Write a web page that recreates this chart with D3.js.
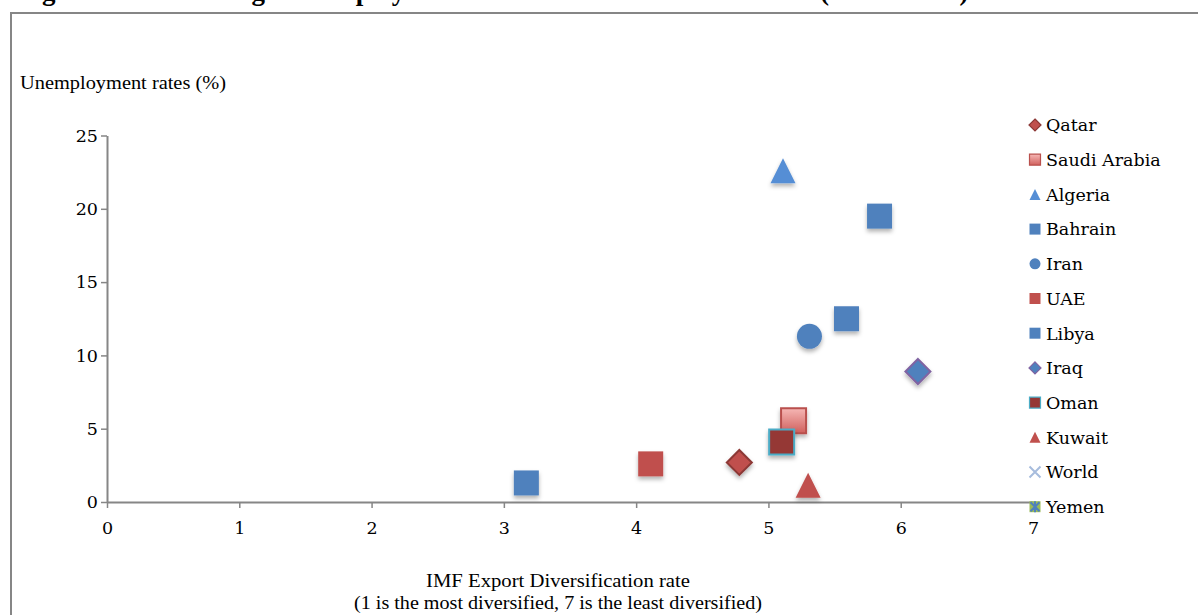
<!DOCTYPE html>
<html>
<head>
<meta charset="utf-8">
<script src="https://cdn.jsdelivr.net/npm/d3@7"></script>
<style>
  body { margin: 0; background: #fff; }
  svg { display: block; }
</style>
</head>
<body>
<script>
// Legend order of the series
const countries = ["Qatar", "Saudi Arabia", "Algeria", "Bahrain", "Iran", "UAE",
  "Libya", "Iraq", "Oman", "Kuwait", "World", "Yemen"];

// Plotted points (World and Yemen show no point in the plot area)
const pointCountry = ["Qatar", "Saudi Arabia", "Algeria", "Bahrain", "Iran", "UAE",
  "Libya", "Libya", "Iraq", "Oman", "Kuwait"];
const pointDiversification = [4.78, 5.19, 5.11, 3.17, 5.31, 4.11, 5.59, 5.84, 6.13, 5.10, 5.30];
const pointUnemployment = [2.7, 5.55, 22.6, 1.3, 11.3, 2.6, 12.5, 19.5, 8.9, 4.1, 1.15];

const xTicks = [0, 1, 2, 3, 4, 5, 6, 7];
const yTicks = [0, 5, 10, 15, 20, 25];

const titleText = "Figure 6: Oil and High Unemployment in Selected MENA Economies (2010 - 2012)";
const yLabel = "Unemployment rates (%)";
const xLabel = ["IMF Export Diversification rate",
  "(1 is the most diversified, 7 is the least diversified)"];

// marker look per series
const markerStyle = {
  "Qatar": { shape: "diamond", fill: "#C0504D", stroke: "#8C3836" },
  "Saudi Arabia": { shape: "square", fill: "url(#saudiGrad)", stroke: "#B9504D" },
  "Algeria": { shape: "triangle", fill: "#558ED5", stroke: "none" },
  "Bahrain": { shape: "square", fill: "#4F81BD", stroke: "none" },
  "Iran": { shape: "circle", fill: "#4F81BD", stroke: "none" },
  "UAE": { shape: "square", fill: "#C0504D", stroke: "none" },
  "Libya": { shape: "square", fill: "#4F81BD", stroke: "none" },
  "Iraq": { shape: "diamond", fill: "#4F81BD", stroke: "#8064A2" },
  "Oman": { shape: "square", fill: "#953735", stroke: "#4BACC6" },
  "Kuwait": { shape: "triangle", fill: "#C0504D", stroke: "none" },
  "World": { shape: "x", fill: "none", stroke: "#A7BCDD" },
  "Yemen": { shape: "star", fill: "#9BBB59", stroke: "#4F81BD" }
};

const W = 1198, H = 615;
const svg = d3.select("body").append("svg").attr("width", W).attr("height", H);

const defs = svg.append("defs");
const grad = defs.append("linearGradient").attr("id", "saudiGrad")
  .attr("x1", 0).attr("y1", 0).attr("x2", 0).attr("y2", 1);
grad.append("stop").attr("offset", "0%").attr("stop-color", "#F6B7B5");
grad.append("stop").attr("offset", "100%").attr("stop-color", "#D0605D");
defs.append("filter").attr("id", "shadow")
  .attr("x", "-50%").attr("y", "-50%").attr("width", "200%").attr("height", "200%")
  .append("feDropShadow").attr("dx", 0).attr("dy", 3).attr("stdDeviation", 2)
  .attr("flood-color", "#000").attr("flood-opacity", 0.3);

// title (mostly cut off at the top of the picture, as in the source)
svg.append("text")
  .attr("x", 18).attr("y", -0.5)
  .style("font-family", "'Liberation Serif', serif")
  .style("font-weight", "bold").style("font-size", "27px")
  .text(titleText);

// chart frame
svg.append("rect")
  .attr("x", 11).attr("y", 13).attr("width", 1300).attr("height", 700)
  .attr("fill", "none").attr("stroke", "#868686").attr("stroke-width", 2);

const x = d3.scaleLinear().domain([0, 7]).range([107, 1033]);
const y = d3.scaleLinear().domain([0, 25]).range([502, 135.5]);

const tickFont = "'DejaVu Serif', serif";
const labelFont = "'Liberation Serif', serif";

const xAxis = svg.append("g")
  .attr("transform", `translate(0,${y(0)})`)
  .call(d3.axisBottom(x).tickValues(xTicks).tickFormat(d3.format("d"))
    .tickSize(6).tickPadding(14).tickSizeOuter(0));
const yAxis = svg.append("g")
  .attr("transform", `translate(${x(0)},0)`)
  .call(d3.axisLeft(y).tickValues(yTicks).tickFormat(d3.format("d"))
    .tickSize(6).tickPadding(3).tickSizeOuter(0));

[xAxis, yAxis].forEach((g) => {
  g.select(".domain").attr("stroke", "#868686").attr("stroke-width", 2);
  g.selectAll(".tick line").attr("stroke", "#868686").attr("stroke-width", 1.5);
  g.selectAll(".tick text")
    .style("font-family", tickFont).style("font-size", "17.5px").attr("fill", "#000");
});

// axis titles
svg.append("text")
  .attr("x", 20).attr("y", 89)
  .attr("textLength", 206).attr("lengthAdjust", "spacingAndGlyphs")
  .style("font-family", labelFont).style("font-size", "18.5px")
  .text(yLabel);

const xLabelWidths = [264, 408];
svg.append("g").selectAll("text")
  .data(xLabel)
  .join("text")
  .attr("x", 558).attr("y", (d, i) => 587 + i * 22)
  .attr("text-anchor", "middle")
  .attr("textLength", (d, i) => xLabelWidths[i])
  .attr("lengthAdjust", "spacingAndGlyphs")
  .style("font-family", labelFont).style("font-size", "19px")
  .text((d) => d);

// marker path for a shape of full width s
function shapePath(shape, s) {
  const h = s / 2;
  const p = d3.path();
  if (shape === "square") {
    p.rect(-h, -h, s, s);
  } else if (shape === "diamond") {
    p.moveTo(0, -h); p.lineTo(h, 0); p.lineTo(0, h); p.lineTo(-h, 0); p.closePath();
  } else if (shape === "triangle") {
    p.moveTo(0, -h); p.lineTo(h, h); p.lineTo(-h, h); p.closePath();
  } else if (shape === "circle") {
    p.moveTo(h, 0); p.arc(0, 0, h, 0, 2 * Math.PI);
  } else if (shape === "x") {
    p.moveTo(-h, -h); p.lineTo(h, h); p.moveTo(h, -h); p.lineTo(-h, h);
  }
  return p.toString();
}

function drawMarker(g, name, s, strokeW) {
  const st = markerStyle[name];
  if (st.shape === "star") {
    const h = s / 2;
    g.append("rect").attr("x", -h).attr("y", -h).attr("width", s).attr("height", s)
      .attr("fill", st.fill);
    g.append("path")
      .attr("d", `M${-h + 1},${-h + 1}L${h - 1},${h - 1}M${h - 1},${-h + 1}L${-h + 1},${h - 1}M0,${-h}L0,${h}`)
      .attr("stroke", st.stroke).attr("stroke-width", 2).attr("fill", "none");
    return;
  }
  g.append("path")
    .attr("d", shapePath(st.shape, s))
    .attr("fill", st.fill)
    .attr("stroke", st.stroke)
    .attr("stroke-width", st.shape === "x" ? 2 : strokeW);
}

// points
const points = pointCountry.map((c, i) => ({
  country: c, dx: pointDiversification[i], un: pointUnemployment[i]
}));

const plot = svg.append("g");
points.forEach((d) => {
  const g = plot.append("g")
    .attr("transform", `translate(${x(d.dx)},${y(d.un)})`)
    .attr("filter", "url(#shadow)");
  drawMarker(g, d.country, 25, 2);
});

// legend
const legend = svg.append("g");
countries.forEach((c, i) => {
  const row = legend.append("g").attr("transform", `translate(1035,${125 + i * 34.7})`);
  const shape = markerStyle[c].shape;
  drawMarker(row, c, shape === "diamond" ? 12 : 11, 1.2);
  row.append("text")
    .attr("x", 11).attr("y", 0).attr("dy", "0.36em")
    .style("font-family", tickFont).style("font-size", "17.5px")
    .text(c);
});
</script>
</body>
</html>
